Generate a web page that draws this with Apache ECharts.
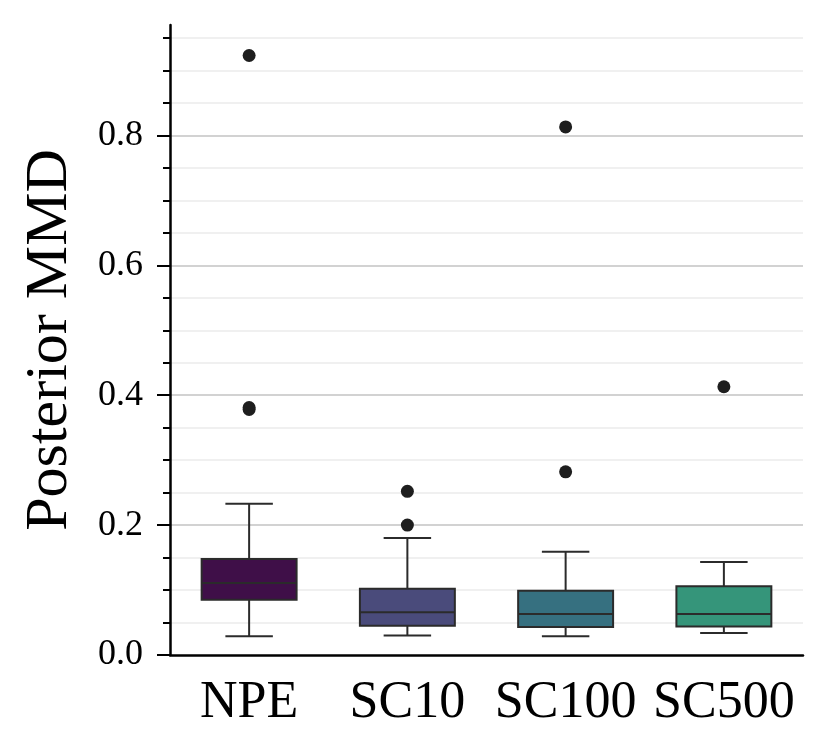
<!DOCTYPE html>
<html>
<head>
<meta charset="utf-8">
<script src="https://cdn.jsdelivr.net/npm/echarts@6/dist/echarts.min.js"></script>
<style>
  html, body { margin: 0; padding: 0; background: #fff; }
  #main { width: 830px; height: 756px; }
</style>
</head>
<body>
<div id="main"></div>
<script>
// box statistics
var categories = ['NPE', 'SC10', 'SC100', 'SC500'];
var whiskerLow = [0.029, 0.030, 0.029, 0.034];
var q1 = [0.085, 0.045, 0.043, 0.044];
var median = [0.111, 0.066, 0.063, 0.063];
var q3 = [0.148, 0.102, 0.099, 0.106];
var whiskerHigh = [0.233, 0.180, 0.159, 0.143];
var boxColors = ['#3f0f48', '#4a4b7b', '#367080', '#35957a'];
// outliers: [category index, value]
var outliers = [[0, 0.923], [0, 0.381], [0, 0.378], [1, 0.252], [1, 0.200], [2, 0.813], [2, 0.282], [3, 0.413]];
var majorTicks = [0, 0.2, 0.4, 0.6, 0.8];
var minorTicks = [0.05, 0.1, 0.15, 0.25, 0.3, 0.35, 0.45, 0.5, 0.55, 0.65, 0.7, 0.75, 0.85, 0.9, 0.95];

var font = '"Liberation Serif", "DejaVu Serif", serif';
var edge = '#2b2b2b';

var boxData = categories.map(function (c, i) {
    return [i, whiskerLow[i], q1[i], median[i], q3[i], whiskerHigh[i]];
});
var outlierData = outliers.map(function (o) { return [categories[o[0]], o[1]]; });

function renderBox(params, api) {
    var i = api.value(0);
    var band = api.size([1, 0])[0];
    var half = band * 0.3;
    var cap = band * 0.15;
    var lo = api.coord([i, api.value(1)]);
    var b1 = api.coord([i, api.value(2)]);
    var md = api.coord([i, api.value(3)]);
    var b3 = api.coord([i, api.value(4)]);
    var hi = api.coord([i, api.value(5)]);
    var x = lo[0];
    var ls = { stroke: edge, lineWidth: 2 };
    return {
        type: 'group',
        children: [
            { type: 'line', shape: { x1: x, y1: b3[1], x2: x, y2: hi[1] }, style: ls },
            { type: 'line', shape: { x1: x, y1: b1[1], x2: x, y2: lo[1] }, style: ls },
            { type: 'line', shape: { x1: x - cap, y1: hi[1], x2: x + cap, y2: hi[1] }, style: ls },
            { type: 'line', shape: { x1: x - cap, y1: lo[1], x2: x + cap, y2: lo[1] }, style: ls },
            { type: 'rect', shape: { x: x - half, y: b3[1], width: half * 2, height: b1[1] - b3[1] },
              style: { fill: boxColors[i], stroke: edge, lineWidth: 2 } },
            { type: 'line', shape: { x1: x - half, y1: md[1], x2: x + half, y2: md[1] }, style: ls }
        ]
    };
}

var myChart = echarts.init(document.getElementById('main'));
var option = {
    backgroundColor: '#fff',
    animation: false,
    grid: { left: 170, right: 27, top: 25, bottom: 101 },
    xAxis: {
        type: 'category',
        data: categories,
        axisLine: { lineStyle: { color: '#000', width: 2.5 } },
        axisTick: { alignWithLabel: true, length: 12, lineStyle: { color: '#000', width: 2 } },
        axisLabel: { fontFamily: font, fontSize: 52, color: '#000', margin: 22, interval: 0, hideOverlap: false },
        splitLine: { show: false }
    },
    yAxis: [{
        // minor ticks + light grid
        type: 'value',
        position: 'left',
        min: 0,
        max: 0.97,
        interval: 0.05,
        axisLine: { show: false },
        axisTick: { show: true, length: 7, customValues: minorTicks, lineStyle: { color: '#000', width: 2 } },
        axisLabel: { show: false },
        splitLine: {
            show: true, showMaxLine: true, showMinLine: true,
            lineStyle: { color: '#f0f0f0', width: 2 }
        }
    }, {
        type: 'value',
        position: 'left',
        min: 0,
        max: 0.97,
        interval: 0.2,
        name: 'Posterior MMD',
        nameLocation: 'middle',
        nameGap: 90,
        nameTextStyle: { fontFamily: font, fontSize: 60, color: '#000' },
        axisLine: { show: true, lineStyle: { color: '#000', width: 2.5 } },
        axisTick: { show: true, length: 13, customValues: majorTicks, lineStyle: { color: '#000', width: 2 } },
        axisLabel: {
            fontFamily: font, fontSize: 36, color: '#000', margin: 27,
            customValues: majorTicks,
            formatter: function (v) { return v.toFixed(1); }
        },
        splitLine: { show: true, showMaxLine: true, showMinLine: false, lineStyle: { color: '#d2d2d2', width: 2 } }
    }],
    series: [{
        type: 'custom',
        name: 'box',
        renderItem: renderBox,
        yAxisIndex: 1,
        encode: { x: 0, y: [1, 2, 3, 4, 5] },
        data: boxData,
        z: 2
    }, {
        type: 'scatter',
        name: 'outliers',
        yAxisIndex: 1,
        data: outlierData,
        symbolSize: 13,
        itemStyle: { color: '#1e1e1e', opacity: 1 },
        z: 3
    }]
};
if (option && typeof option === 'object') {
    myChart.setOption(option, true);
}
</script>
</body>
</html>
